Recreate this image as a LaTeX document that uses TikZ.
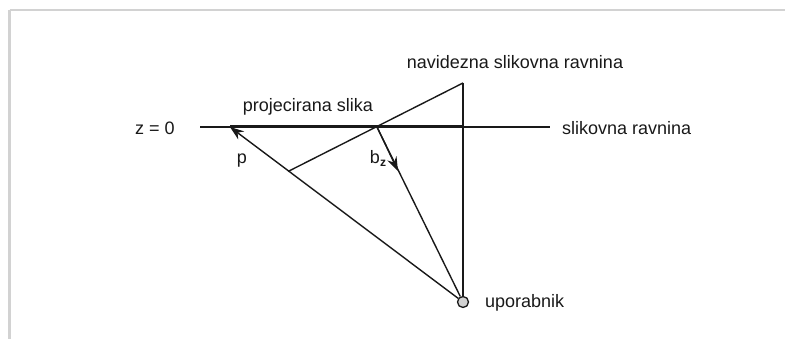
\documentclass[tikz,border=0pt]{standalone}
\usepackage{fontspec}
\setmainfont{Liberation Sans}
\usetikzlibrary{arrows.meta}
\begin{document}
\begin{tikzpicture}[x=1pt,y=-1pt,
  lbl/.style={font=\fontsize{18}{21}\selectfont, inner sep=0pt, text=black!90},
  ln/.style={line width=1.4pt, black!90},
  thickln/.style={line width=3pt, black!90},
  arr/.style={-{Stealth[length=14pt,width=10pt]}},
  frame/.style={line width=2.5pt, gray!35}]
\useasboundingbox (0,0) rectangle (785,339);
\draw[frame] (9.5,10) -- (785,10);
\draw[frame] (9.5,10) -- (9.5,339);
% geometric points
\coordinate (L) at (200,127);
\coordinate (R) at (550,127);
\coordinate (A) at (230,127);
\coordinate (V) at (463,127);
\coordinate (T) at (463,83);
\coordinate (X) at (377,127);
\coordinate (S) at (288,171.5);
\coordinate (B) at (398,171);
\node[circle, draw=black!90, line width=1.3pt, fill=gray!35, minimum size=11pt, inner sep=0pt] (U) at (463,302) {};
% lines
\draw[ln] (L) -- (R);
\draw[thickln] (A) -- (V);
\draw[ln] (T) -- (U.north);
\draw[ln] (T) -- (S);
\draw[ln] (X) -- (U);
\draw[ln, arr] (U) -- (A);
\draw[ln, arr] (X) -- (B);
% labels
\node[lbl] (t1) at (515,62) {navidezna slikovna ravnina};
\node[lbl] (t2) at (308,107) {projecirana slika};
\node[lbl] (t3) at (155,128) {z = 0};
\node[lbl, anchor=west] (t4) at (562,128) {slikovna ravnina};
\node[lbl] (t5) at (242,161) {p};
\node[lbl] (t6) at (378,158) {b\raisebox{-3pt}{\fontsize{12}{14}\selectfont\textbf{z}}};
\node[lbl, anchor=west] (t7) at (485,303) {uporabnik};
\end{tikzpicture}
\end{document}
